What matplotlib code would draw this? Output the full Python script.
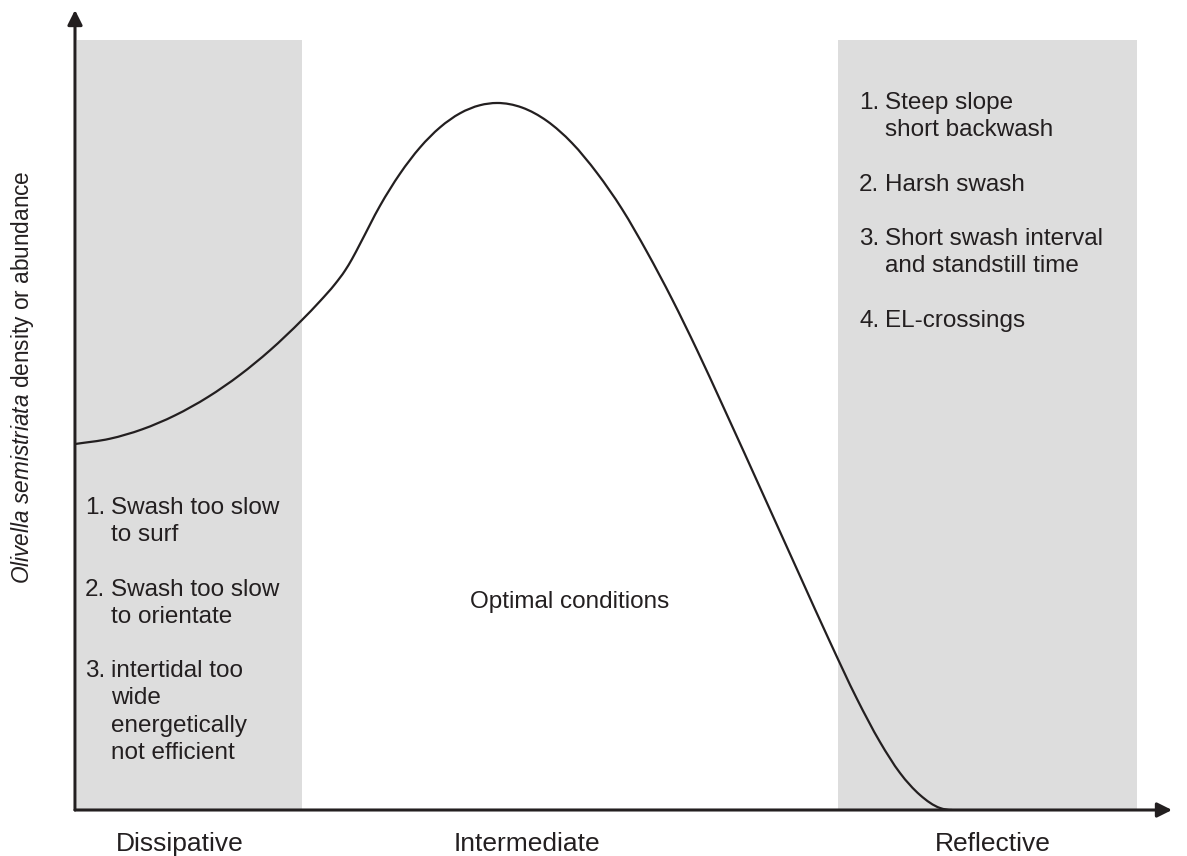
import matplotlib
matplotlib.use("Agg")
import matplotlib.pyplot as plt
from matplotlib.path import Path
from matplotlib.patches import PathPatch, Rectangle

plt.rcParams['font.family'] = ['Liberation Sans', 'DejaVu Sans']
plt.rcParams['mathtext.fontset'] = 'custom'
plt.rcParams['mathtext.rm'] = 'Liberation Sans'
plt.rcParams['mathtext.it'] = 'Liberation Sans:italic'

# ---- data (beach state index vs. relative density) ----
state_x = [0.00, 0.35, 0.67, 1.00, 1.33, 1.65, 1.95, 2.27, 2.45, 2.60, 2.70, 2.77,
           2.85, 3.05, 3.25, 3.45, 3.65, 3.85, 4.05, 4.22,
           4.47, 4.72, 4.97, 5.22, 5.47, 5.72, 5.97, 6.22, 6.47, 6.92, 7.25, 7.55,
           7.82, 8.05, 8.25, 8.45, 8.65, 8.77]
density_y = [4.753, 4.822, 4.943, 5.125, 5.364, 5.651, 5.970, 6.364, 6.608, 6.830,
             7.005, 7.155, 7.351, 7.847, 8.264, 8.604, 8.865, 9.048, 9.153, 9.182,
             9.123, 8.948, 8.662, 8.273, 7.805, 7.247, 6.636, 5.974, 5.273, 3.987,
             3.039, 2.182, 1.442, 0.883, 0.481, 0.195, 0.026, 0.000]
zone_dissipative = (0.02, 2.27)
zone_reflective = (7.63, 10.62)
zone_top = 10.0
zone_labels = ["Dissipative", "Intermediate", "Reflective"]
left_items = [("1.", ["Swash too slow", "to surf"]),
              ("2.", ["Swash too slow", "to orientate"]),
              ("3.", ["intertidal too", "wide", "energetically", "not efficient"])]
right_items = [("1.", ["Steep slope", "short backwash"]),
               ("2.", ["Harsh swash"]),
               ("3.", ["Short swash interval", "and standstill time"]),
               ("4.", ["EL-crossings"])]
middle_text = "Optimal conditions"
ylabel_italic = "Olivella\\ semistriata"
ylabel_rest = " density or abundance"

W, H = 1187, 856
fig = plt.figure(figsize=(W / 100, H / 100), dpi=100)
ax = fig.add_axes([75 / W, (H - 810) / H, (1172 - 75) / W, (810 - 10) / H])
ax.set_xlim(0, 10.97)
ax.set_ylim(0, 800 / 77)
ax.axis('off')

gray = '#dddddd'
ink = '#231f20'
for (x0, x1) in (zone_dissipative, zone_reflective):
    ax.add_patch(Rectangle((x0, 0), x1 - x0, zone_top, facecolor=gray,
                           edgecolor='none', zorder=0))

# smooth curve through the points: Hermite cubic Bezier segments
xs, ys = state_x, density_y
n = len(xs)
sec = [(ys[i + 1] - ys[i]) / (xs[i + 1] - xs[i]) for i in range(n - 1)]
slopes = [sec[0]]
for i in range(1, n - 1):
    hl = xs[i] - xs[i - 1]
    hr = xs[i + 1] - xs[i]
    slopes.append((sec[i - 1] * hr + sec[i] * hl) / (hl + hr))
slopes.append(0.0)
verts = [(xs[0], ys[0])]
codes = [Path.MOVETO]
for i in range(n - 1):
    h = xs[i + 1] - xs[i]
    verts += [(xs[i] + h / 3, ys[i] + slopes[i] * h / 3),
              (xs[i + 1] - h / 3, ys[i + 1] - slopes[i + 1] * h / 3),
              (xs[i + 1], ys[i + 1])]
    codes += [Path.CURVE4] * 3
ax.add_patch(PathPatch(Path(verts, codes), facecolor='none', edgecolor=ink,
                       lw=1.6, zorder=3, capstyle='round'))

# axes arrows
arrow = dict(arrowstyle='-|>', lw=2.2, color=ink, mutation_scale=22,
             shrinkA=0, shrinkB=0)
ax.annotate('', xy=(1, 0), xytext=(0, 0), xycoords='axes fraction',
            textcoords='axes fraction', arrowprops=arrow, zorder=5)
ax.annotate('', xy=(0, 1), xytext=(0, 0), xycoords='axes fraction',
            textcoords='axes fraction', arrowprops=arrow, zorder=5)


def ftxt(px, py, s, **kw):
    fig.text(px / W, 1 - py / H, s, color=ink, va='baseline', **kw)


fs = 17.5
lh = 27.2
# left block
y = 514
for num, lines in left_items:
    ftxt(85, y, num, fontsize=fs)
    for j, line in enumerate(lines):
        ftxt(111, y + j * lh, line, fontsize=fs)
    y += (len(lines) + 1) * lh
# right block
y = 109
for num, lines in right_items:
    ftxt(859, y, num, fontsize=fs)
    for j, line in enumerate(lines):
        ftxt(885, y + j * lh, line, fontsize=fs)
    y += (len(lines) + 1) * lh

ftxt(470, 608, middle_text, fontsize=fs)

for cx, lab in zip([180, 527, 993], zone_labels):
    ftxt(cx, 851, lab, fontsize=19, ha='center')

fig.text(23 / W, 1 - 377 / H, "$\\mathit{" + ylabel_italic + "}$" + ylabel_rest,
         rotation=90, ha='center', va='center', fontsize=16.3, color=ink)

fig.savefig("out.png", dpi=100)
